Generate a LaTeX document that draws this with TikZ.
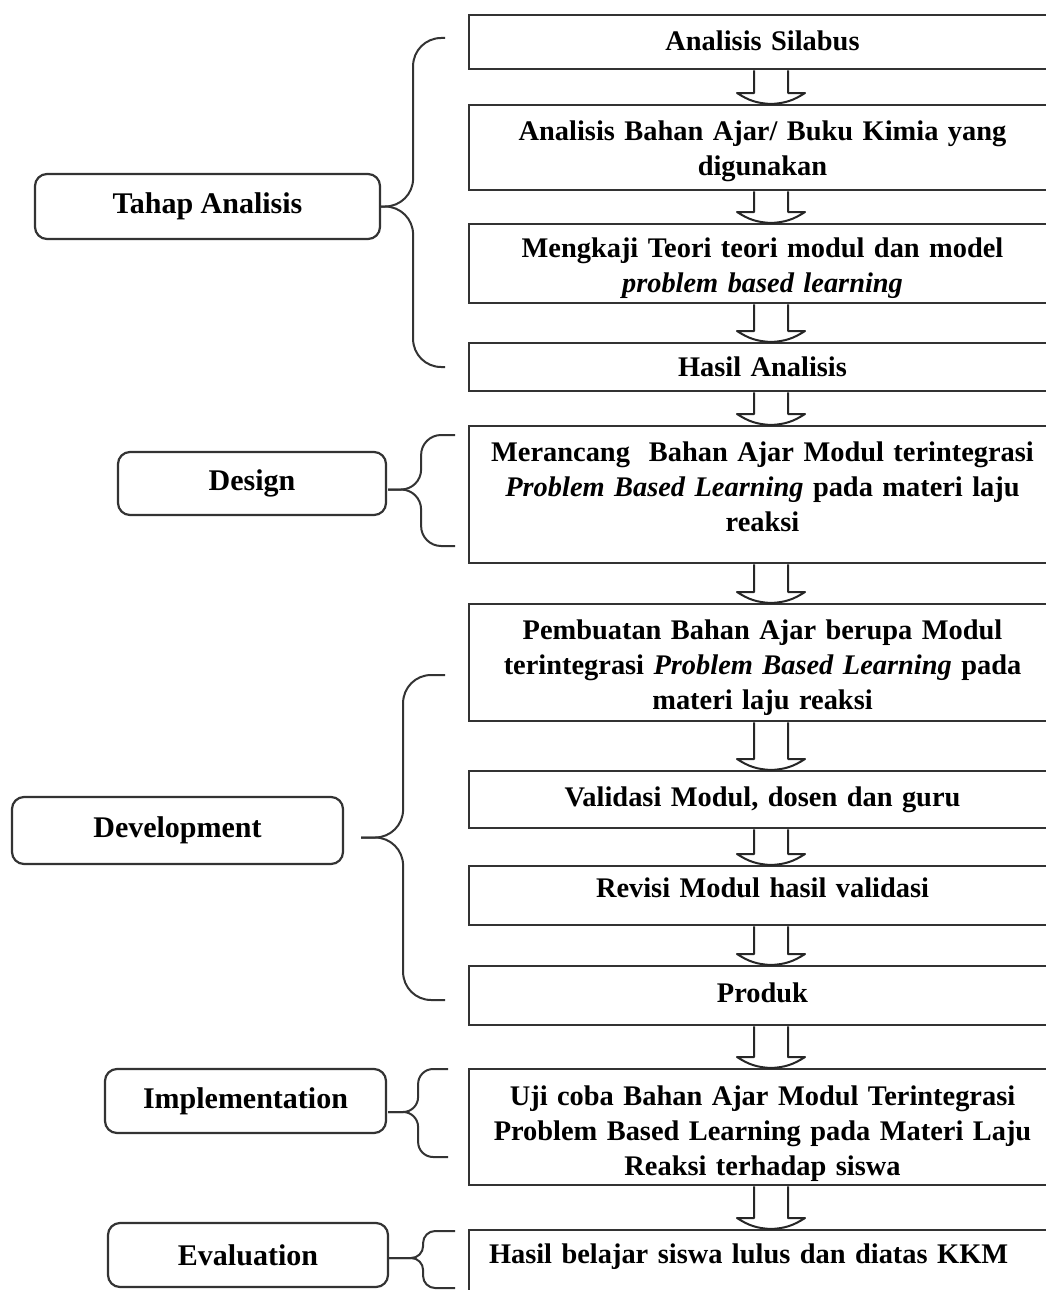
\documentclass[tikz,border=0pt]{standalone}
\usepackage{fontspec}
\setmainfont{Liberation Serif}
\usetikzlibrary{calc}

\begin{document}
\begin{tikzpicture}[x=1pt,y=-1pt,
    flowbox/.style 2 args={draw=black!80, line width=2.4pt, text width=575pt, inner xsep=6pt, inner ysep=0pt,
        align=center, font=\fontsize{28.4}{35}\selectfont\bfseries, text height=#1, text depth=#2, anchor=north},
    phasebox/.style={draw=black!80, line width=2.2pt, rounded corners=12pt, font=\fontsize{30}{35}\selectfont\bfseries},
    curl/.style={draw=black!80, line width=2pt, rounded corners=#1},
    curl/.default=28pt,
    hollow/.style={draw=black!85, line width=2pt, line join=round}]
    \path[use as bounding box, clip] (0,0) rectangle (1046,1290);

    % steps on the right
    \node[flowbox={35pt}{19pt}] (s1) at (762.5,14) {Analisis Silabus};
    \node[flowbox={35pt}{50pt}] (s2) at (762.5,104) {Analisis Bahan Ajar/ Buku Kimia yang\\digunakan};
    \node[flowbox={33pt}{46pt}] (s3) at (762.5,223) {Mengkaji Teori teori modul dan model\\\textit{problem based learning}};
    \node[flowbox={33pt}{15pt}] (s4) at (762.5,342) {Hasil Analisis};
    \node[flowbox={35pt}{102pt}] (s5) at (762.5,425) {Merancang~ Bahan Ajar Modul terintegrasi\\\textit{Problem Based Learning} pada materi laju\\reaksi};
    \node[flowbox={35pt}{82pt}] (s6) at (762.5,603) {Pembuatan Bahan Ajar berupa Modul\\terintegrasi \textit{Problem Based Learning} pada\\materi laju reaksi};
    \node[flowbox={35pt}{22pt}] (s7) at (762.5,770) {Validasi Modul, dosen dan guru};
    \node[flowbox={31pt}{28pt}] (s8) at (762.5,865) {Revisi Modul hasil validasi};
    \node[flowbox={36pt}{23pt}] (s9) at (762.5,965) {Produk};
    \node[flowbox={36pt}{80pt}] (s10) at (762.5,1068) {Uji coba Bahan Ajar Modul Terintegrasi\\Problem Based Learning pada Materi Laju\\Reaksi terhadap siswa};
    \node[flowbox={33pt}{60pt}, text width=547pt, inner xsep=20pt, align=left] (s11) at (762.5,1229) {Hasil belajar siswa lulus dan diatas KKM};

    \foreach \a/\b in {s1/s2,s2/s3,s3/s4,s4/s5,s5/s6,s6/s7,s7/s8,s8/s9,s9/s10,s10/s11}
        \draw[hollow] ($(\a.south)+(-8.5,0)$) -- ($(\b.north)+(-8.5,-11)$) -- ($(\b.north)+(-25.5,-11)$)
            to[bend right=15] ($(\b.north)+(8.5,0)$) to[bend right=15] ($(\b.north)+(42.5,-11)$)
            -- ($(\b.north)+(25.5,-11)$) -- ($(\a.south)+(25.5,0)$);

    % phases on the left
    \node[phasebox, minimum width=345pt, minimum height=65pt] (ta) at (207.5,206.5) {Tahap Analisis};
    \node[phasebox, minimum width=268pt, minimum height=63pt] (ds) at (252,483.5) {Design};
    \node[phasebox, minimum width=331pt, minimum height=67pt] (dv) at (177.5,830.5) {Development};
    \node[phasebox, minimum width=281pt, minimum height=64pt] (im) at (245.5,1101) {Implementation};
    \node[phasebox, minimum width=280pt, minimum height=64pt] (ev) at (248,1255) {Evaluation};

    % braces
    \coordinate (taT) at (ta.east);
    \coordinate (ta1) at (445,38);
    \coordinate (ta2) at (445,367);
    \draw[curl] (ta1) -| ($(taT)+(32,0)$) -- (taT);
    \draw[curl] (taT) -- ($(taT)+(32,0)$) |- (ta2);

    \coordinate (dsT) at ($(ds.east)+(1,6)$);
    \coordinate (ds1) at (455,435);
    \coordinate (ds2) at (455,546);
    \draw[curl=20pt] (ds1) -| ($(dsT)+(33,0)$) -- (dsT);
    \draw[curl=20pt] (dsT) -- ($(dsT)+(33,0)$) |- (ds2);

    \coordinate (dvT) at ($(dv.east)+(17,7)$);
    \coordinate (dv1) at (445,675);
    \coordinate (dv2) at (445,1000);
    \draw[curl] (dv1) -| ($(dvT)+(42,0)$) -- (dvT);
    \draw[curl] (dvT) -- ($(dvT)+(42,0)$) |- (dv2);

    \coordinate (imT) at ($(im.east)+(1,11)$);
    \coordinate (im1) at (448,1069);
    \coordinate (im2) at (448,1157);
    \draw[curl=15pt] (im1) -| ($(imT)+(30,0)$) -- (imT);
    \draw[curl=15pt] (imT) -- ($(imT)+(30,0)$) |- (im2);

    \coordinate (evT) at ($(ev.east)+(0,3)$);
    \coordinate (ev1) at (455,1231);
    \coordinate (ev2) at (455,1288);
    \draw[curl=12pt] (ev1) -| ($(evT)+(34,0)$) -- (evT);
    \draw[curl=12pt] (evT) -- ($(evT)+(34,0)$) |- (ev2);
\end{tikzpicture}
\end{document}
